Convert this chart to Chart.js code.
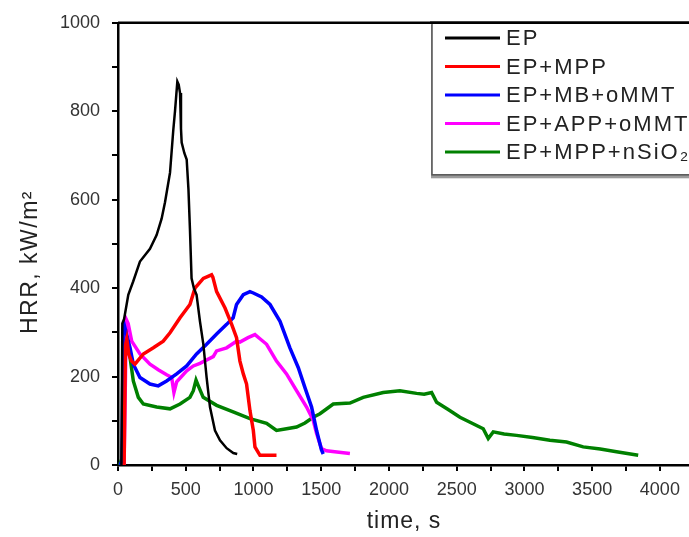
<!DOCTYPE html>
<html>
<head>
<meta charset="utf-8">
<script src="https://cdn.jsdelivr.net/npm/chart.js@4/dist/chart.umd.min.js"></script>
<style>
html,body{margin:0;padding:0;background:#fff;}
#wrap{width:689px;height:537px;position:relative;}
</style>
</head>
<body>
<div id="wrap"><canvas id="c" width="689" height="537"></canvas></div>
<script>
// ---- data ----
const seriesNames = ["EP", "EP+MPP", "EP+MB+oMMT", "EP+APP+oMMT", "EP+MPP+nSiO\u2082"];
const seriesColors = ["#000000", "#ff0000", "#0000ff", "#ff00ff", "#008000"];

const epTime = [25,32,45,76,112,162,236,285,322,347,384,408,421,438,448,458,465,470,490,507,520,531,543,560,580,605,630,654,679,716,753,802,851,880];
const epHRR  = [0,320,330,385,415,460,489,520,557,594,661,757,801,867,860,841,760,729,705,691,624,534,422,400,385,325,273,198,131,78,56,38,27,25];

const mppTime = [45,55,65,80,100,125,187,261,334,384,458,531,568,630,691,700,728,790,839,875,900,925,949,974,999,1011,1048,1170];
const mppHRR  = [0,270,285,250,235,228,251,265,280,299,333,363,400,422,430,425,392,355,318,288,235,206,183,123,78,41,22,22];

const mbTime = [15,30,38,45,60,89,113,162,236,297,359,433,507,580,654,728,802,850,875,925,974,999,1060,1122,1196,1269,1331,1380,1429,1466,1502,1515];
const mbHRR  = [0,10,310,318,300,265,228,198,183,179,190,206,224,251,273,296,318,333,363,385,392,389,380,363,325,265,220,175,131,78,34,25];

const appTime = [45,55,60,75,101,162,236,300,359,396,405,413,433,507,556,605,703,728,802,875,900,960,1011,1050,1097,1170,1244,1318,1392,1441,1466,1502,1539,1600,1712];
const appHRR  = [0,200,330,320,280,251,228,215,204,198,180,164,188,213,224,230,245,258,265,280,278,288,295,285,273,235,206,168,131,101,71,37,32,30,26];

const sioTime = [10,30,45,55,62,75,89,113,150,187,285,384,458,531,556,576,593,629,728,850,974,1097,1170,1244,1318,1380,1441,1491,1589,1712,1810,1958,2081,2204,2260,2315,2352,2440,2524,2610,2696,2733,2770,2850,2942,3060,3188,3311,3434,3560,3680,3840];
const sioHRR  = [0,15,160,285,292,270,243,190,153,138,131,127,138,153,168,192,179,153,135,120,105,94,78,82,86,95,108,116,138,140,153,164,168,162,160,164,142,125,108,95,82,60,75,70,67,62,56,52,41,36,30,22];

const xTickLabels = ["0","500","1000","1500","2000","2500","3000","3500","4000"];
const yTickLabels = ["0","200","400","600","800","1000"];
const xTitle = "time, s";
const yTitle = "HRR, kW/m\u00B2";

// ---- build datasets ----
const timeArrays = [epTime, mppTime, mbTime, appTime, sioTime];
const valueArrays = [epHRR, mppHRR, mbHRR, appHRR, sioHRR];
const datasets = seriesNames.map((name, i) => ({
  label: name,
  data: timeArrays[i].map((t, k) => ({x: t, y: valueArrays[i][k]})),
  borderColor: seriesColors[i],
  backgroundColor: seriesColors[i],
  borderWidth: i === 0 ? 2.5 : 3.5,
  pointRadius: 0,
  tension: 0,
  fill: false
}));

// tick positions: labelled ticks plus minor ticks halfway between
const xTickValues = [];
xTickLabels.forEach((s, i) => {
  xTickValues.push(Number(s));
  if (i < xTickLabels.length - 1) xTickValues.push((Number(s) + Number(xTickLabels[i + 1])) / 2);
});
const yTickValues = [];
yTickLabels.forEach((s, i) => {
  yTickValues.push(Number(s));
  if (i < yTickLabels.length - 1) yTickValues.push((Number(s) + Number(yTickLabels[i + 1])) / 2);
});

const FONT = "'Liberation Sans', Arial, sans-serif";

function labelFor(labels, v) {
  const idx = labels.indexOf(String(Math.round(Number(v))));
  return idx >= 0 ? labels[idx] : '';
}

const decor = {
  id: 'decor',
  afterDraw(chart) {
    const ctx = chart.ctx;
    const a = chart.chartArea;
    ctx.save();
    // top frame line
    ctx.strokeStyle = '#000';
    ctx.lineWidth = 2.5;
    ctx.beginPath();
    ctx.moveTo(a.left, a.top);
    ctx.lineTo(a.right + 2, a.top);
    ctx.stroke();

    // legend box
    const bx = 432, by = a.top, bw = 300, bh = 152;
    ctx.fillStyle = '#9a9a9a';
    ctx.fillRect(bx - 1, by + 2, bw, bh + 1.5);
    ctx.fillStyle = '#fff';
    ctx.fillRect(bx, by, bw, bh);
    ctx.strokeStyle = '#555';
    ctx.lineWidth = 1.5;
    ctx.strokeRect(bx, by, bw, bh);
    ctx.strokeStyle = '#000';
    ctx.lineWidth = 2.5;
    ctx.beginPath();
    ctx.moveTo(bx - 2, a.top);
    ctx.lineTo(a.right + 2, a.top);
    ctx.stroke();

    ctx.font = '22px ' + FONT;
    if ('letterSpacing' in ctx) ctx.letterSpacing = '2px';
    ctx.textBaseline = 'middle';
    ctx.textAlign = 'left';
    chart.data.datasets.forEach((ds, i) => {
      const y = 38 + i * 28.5;
      ctx.strokeStyle = ds.borderColor;
      ctx.lineWidth = 3;
      ctx.beginPath();
      ctx.moveTo(445, y);
      ctx.lineTo(500, y);
      ctx.stroke();
      ctx.fillStyle = '#222';
      ctx.fillText(ds.label, 506, y + 1);
    });

    // x axis title
    ctx.font = '23px ' + FONT;
    if ('letterSpacing' in ctx) ctx.letterSpacing = '1px';
    ctx.fillStyle = '#222';
    ctx.textAlign = 'center';
    ctx.textBaseline = 'alphabetic';
    ctx.fillText(xTitle, 404, 528);

    // y axis title
    ctx.translate(31, 262);
    ctx.rotate(-Math.PI / 2);
    ctx.textAlign = 'center';
    ctx.textBaseline = 'middle';
    if ('letterSpacing' in ctx) ctx.letterSpacing = '1.5px';
    ctx.fillText(yTitle, 0, 0);
    ctx.restore();
  }
};

new Chart(document.getElementById('c'), {
  type: 'scatter',
  data: { datasets },
  options: {
    responsive: false,
    animation: false,
    events: [],
    showLine: true,
    layout: { padding: { top: 19, right: 0, left: 0, bottom: 0 } },
    plugins: { legend: { display: false }, tooltip: { enabled: false } },
    scales: {
      x: {
        type: 'linear',
        min: 0,
        max: 4215,
        afterBuildTicks(s) { s.ticks = xTickValues.map(v => ({ value: v })); },
        afterFit(s) { s.height = 72; },
        border: { color: '#000', width: 2.5 },
        grid: { drawOnChartArea: false, drawTicks: true, tickLength: 6, color: '#000', lineWidth: 2 },
        ticks: {
          autoSkip: false,
          maxRotation: 0,
          minRotation: 0,
          padding: 8,
          color: '#333',
          font: { family: FONT, size: 18 },
          callback: function (v) { return labelFor(xTickLabels, v); }
        },
        title: { display: false, text: xTitle }
      },
      y: {
        type: 'linear',
        min: 0,
        max: 1000,
        afterBuildTicks(s) { s.ticks = yTickValues.map(v => ({ value: v })); },
        afterFit(s) { s.width = 118; },
        border: { color: '#000', width: 2.5 },
        grid: { drawOnChartArea: false, drawTicks: true, tickLength: 6, color: '#000', lineWidth: 2 },
        ticks: {
          autoSkip: false,
          padding: 12,
          color: '#333',
          font: { family: FONT, size: 18 },
          callback: function (v) { return labelFor(yTickLabels, v); }
        },
        title: { display: false, text: yTitle }
      }
    }
  },
  plugins: [decor]
});
</script>
</body>
</html>
